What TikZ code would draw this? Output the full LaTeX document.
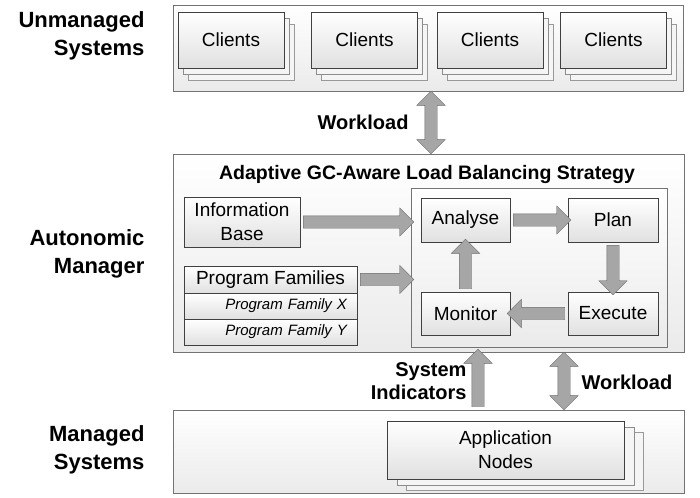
\documentclass[tikz,border=0pt]{standalone}
\usepackage{fontspec}
\setmainfont{Liberation Sans}
\usetikzlibrary{calc,shapes.arrows,shadows}

\tikzset{
	zone/.style = {draw = black!55, top color = white, bottom color = black!8, inner sep = 0pt},
	box/.style = {draw = black!75, top color = white, bottom color = black!12, align = center, inner sep = 0pt, font = \fontsize{19}{24}\selectfont},
	clientstack/.style = {
		general shadow = {shadow xshift = 10pt, shadow yshift = -12pt, fill = black!4, draw = black!40},
		general shadow = {shadow xshift = 5pt, shadow yshift = -6pt, fill = black!4, draw = black!45}},
	appstack/.style = {
		general shadow = {shadow xshift = 19pt, shadow yshift = -11pt, fill = black!4, draw = black!40},
		general shadow = {shadow xshift = 10pt, shadow yshift = -6pt, fill = black!4, draw = black!45}},
	pfrow/.style = {box, text width = 153pt, inner xsep = 10pt, minimum height = 26pt, align = right, font = \itshape\fontsize{15}{18}\selectfont},
	side/.style = {anchor = east, align = right, font = \bfseries\fontsize{22}{28}\selectfont},
	tag/.style = {font = \bfseries\fontsize{20}{23}\selectfont},
	blockarr/.style = {draw = black!58, fill = black!35, inner xsep = 0pt, inner ysep = 6pt,
		single arrow head extend = 8pt, double arrow head extend = 8pt}
}

\newcommand{\fatarrow}[3][single arrow]{%
	\path let \p1 = #2, \p2 = #3, \n1 = {atan2(\y2-\y1,\x2-\x1)}, \n2 = {veclen(\x2-\x1,\y2-\y1)} in
		node[blockarr, #1, minimum height = \n2, rotate = \n1] at ($(\p1)!0.5!(\p2)$) {};
}

\begin{document}
\begin{tikzpicture}[x = 1pt, y = -1pt]
	\useasboundingbox (0,0) rectangle (700,497);

	\node (lunmanaged)[side] at (148,36) {Unmanaged\\Systems};
	\node (lmanager)[side] at (148,254) {Autonomic\\Manager};
	\node (lmanaged)[side] at (148,450) {Managed\\Systems};

	\node (unmanaged)[zone, minimum width = 510pt, minimum height = 86pt] at (428,48) {};
	\node (manager)[zone, minimum width = 511pt, minimum height = 198pt] at (428.5,253) {};
	\node (managed)[zone, minimum width = 511pt, minimum height = 83pt] at (428.5,451.5) {};

	\node (clients1)[box, clientstack, minimum width = 106pt, minimum height = 56pt] at (231,40) {Clients};
	\node (clients2)[box, clientstack, minimum width = 106pt, minimum height = 56pt] at (364.5,40) {Clients};
	\node (clients3)[box, clientstack, minimum width = 106pt, minimum height = 56pt] at (490,40) {Clients};
	\node (clients4)[box, clientstack, minimum width = 106pt, minimum height = 56pt] at (613.5,40) {Clients};

	\node (title)[font = \bfseries\fontsize{19.5}{23}\selectfont] at (427,175) {Adaptive GC-Aware Load Balancing Strategy};
	\node (mape)[zone, minimum width = 256pt, minimum height = 159pt] at (539,267.5) {};

	\node (info)[box, minimum width = 116pt, minimum height = 50pt] at (242,222) {Information\\Base};
	\node (pf)[box, minimum width = 173pt, minimum height = 27pt] at (270.5,279.5) {Program Families};
	\node (pfx)[pfrow] at (270.5,306) {Program Family X};
	\node (pfy)[pfrow] at (270.5,332) {Program Family Y};

	\node (analyse)[box, minimum width = 89pt, minimum height = 44pt] at (465.5,220) {Analyse};
	\node (plan)[box, minimum width = 90pt, minimum height = 44pt] at (613,220) {Plan};
	\node (monitor)[box, minimum width = 89pt, minimum height = 43pt] at (465.5,313.5) {Monitor};
	\node (execute)[box, minimum width = 90pt, minimum height = 43pt] at (613,313.5) {Execute};

	\node (appnodes)[box, appstack, minimum width = 237pt, minimum height = 58pt] at (505.5,450) {Application\\Nodes};

	\coordinate (wtop) at (431,0);
	\coordinate (sind) at (478,0);
	\coordinate (wbot) at (564,0);

	\fatarrow[double arrow]{(unmanaged.south -| wtop)}{(manager.north -| wtop)}
	\fatarrow{(info.east)}{(info.east -| mape.west)}
	\fatarrow{(pf.east)}{(pf.east -| mape.west)}
	\fatarrow{(analyse.east)}{(plan.west)}
	\fatarrow{(plan.south)}{(execute.north)}
	\fatarrow{(execute.west)}{(monitor.east)}
	\fatarrow{(monitor.north)}{(analyse.south)}
	\fatarrow{(managed.north -| sind)}{(manager.south -| sind)}
	\fatarrow[double arrow]{(manager.south -| wbot)}{(managed.north -| wbot)}

	\node (wl1)[tag, anchor = east] at (412,122) {Workload};
	\node (si)[tag, anchor = east, align = right] at (470,381) {System\\Indicators};
	\node (wl2)[tag, anchor = west] at (578,382) {Workload};
\end{tikzpicture}
\end{document}
